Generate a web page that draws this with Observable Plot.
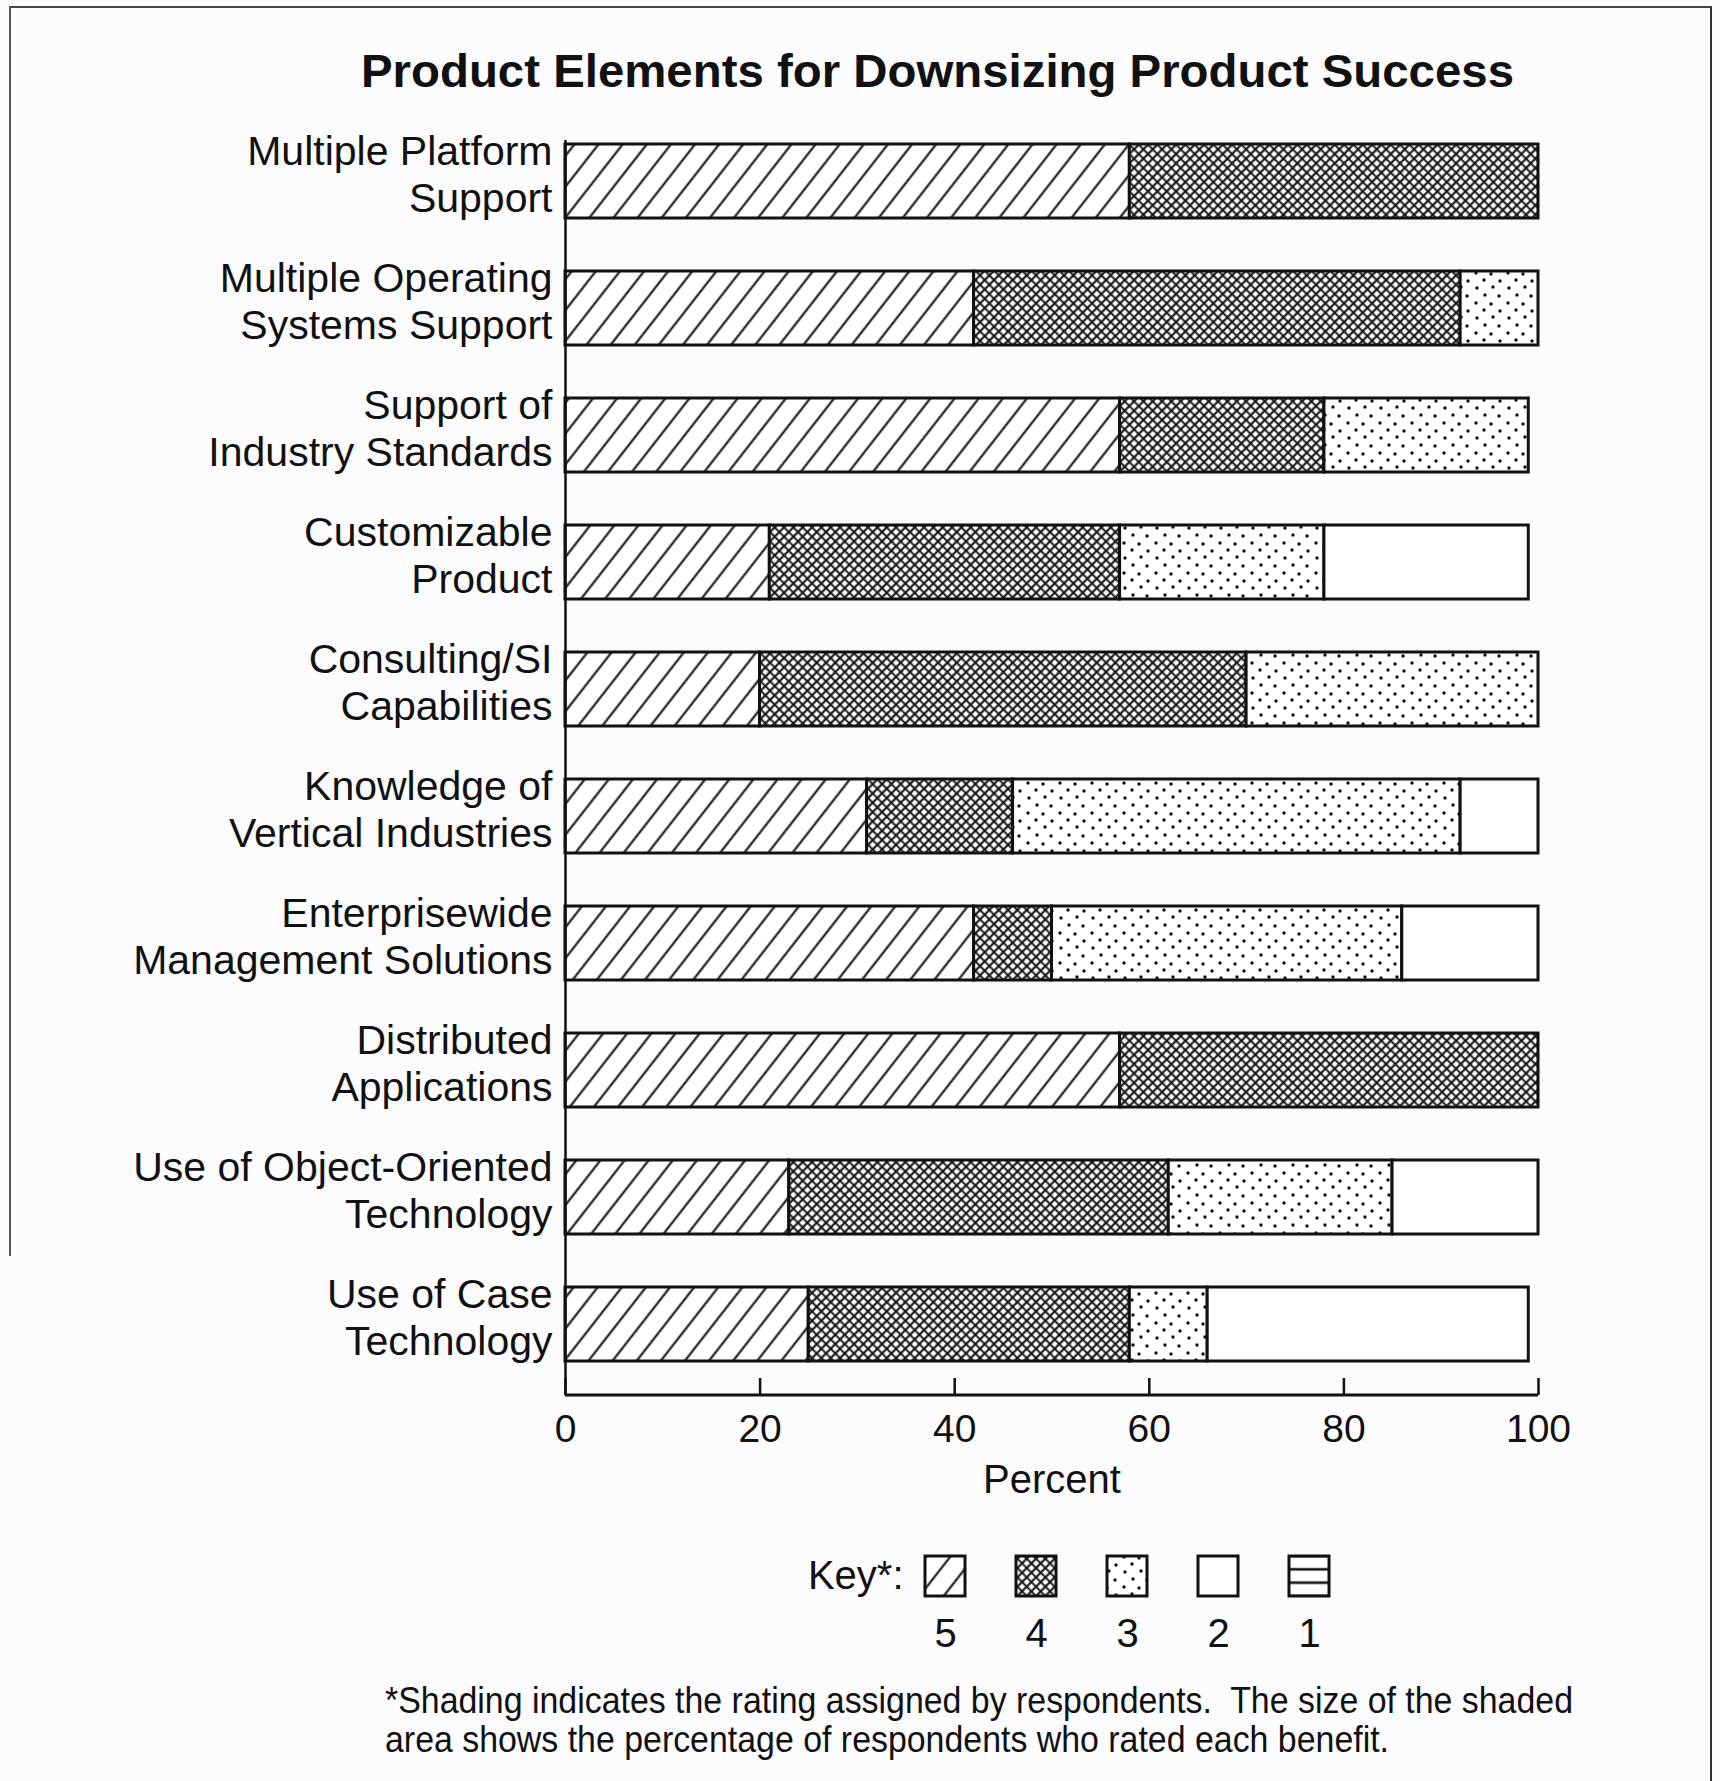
<!DOCTYPE html>
<html>
<head>
<meta charset="utf-8">
<script src="https://cdn.jsdelivr.net/npm/d3@7"></script>
<script src="https://cdn.jsdelivr.net/npm/@observablehq/plot@0.6"></script>
<style>
  html, body { margin: 0; padding: 0; background: #fcfbfd; }
  #page { position: relative; width: 1720px; height: 1781px; overflow: hidden; background: #fcfbfd;
          font-family: "Liberation Sans", Arial, Helvetica, sans-serif; color: #111; }
  .abs { position: absolute; white-space: nowrap; line-height: 1; }
  #title { font-weight: bold; font-size: 47px; left: 361px; top: 47px; }
  .foot { font-size: 36px; left: 385px; }
  #borderTR { position: absolute; left: 9px; top: 6px; width: 1703px; height: 1790px;
              border-top: 2px solid #444; border-right: 2px solid #333; box-sizing: border-box; }
  #borderL { position: absolute; left: 9px; top: 6px; width: 2px; height: 1250px; background: #555; }
</style>
</head>
<body>
<svg width="0" height="0" style="position:absolute">
  <defs>
    <pattern id="pat5" patternUnits="userSpaceOnUse" width="19" height="19" patternTransform="rotate(38)">
      <rect width="19" height="19" fill="#fff"/>
      <line x1="9.5" y1="-1" x2="9.5" y2="20" stroke="#111" stroke-width="2.1"/>
    </pattern>
    <pattern id="pat4" patternUnits="userSpaceOnUse" width="6.6" height="6.6" patternTransform="rotate(45)">
      <rect width="6.6" height="6.6" fill="#fff"/>
      <path d="M0 3.3H6.6M3.3 0V6.6" stroke="#111" stroke-width="2.1"/>
    </pattern>
    <pattern id="pat3" patternUnits="userSpaceOnUse" width="32" height="30">
      <rect width="32" height="30" fill="#fff"/>
      <g fill="#111">
        <circle cx="4" cy="3" r="1.7"/><circle cx="19" cy="4" r="1.7"/>
        <circle cx="12" cy="10" r="1.7"/><circle cx="28" cy="11" r="1.7"/>
        <circle cx="5" cy="18" r="1.7"/><circle cx="21" cy="17" r="1.7"/>
        <circle cx="13" cy="25" r="1.7"/><circle cx="27" cy="26" r="1.7"/>
      </g>
    </pattern>
    <pattern id="pat2" patternUnits="userSpaceOnUse" width="10" height="10">
      <rect width="10" height="10" fill="#fff"/>
    </pattern>
    <pattern id="pat1" patternUnits="userSpaceOnUse" width="10" height="13.33">
      <rect width="10" height="13.33" fill="#fff"/>
      <line x1="-1" y1="2" x2="11" y2="2" stroke="#111" stroke-width="2.6"/>
    </pattern>
  </defs>
</svg>
<div id="page">
  <div id="borderTR"></div>
  <div id="borderL"></div>
  <div id="title" class="abs">Product Elements for Downsizing Product Success</div>
  <div id="foot1" class="abs foot" style="top:1683px">*Shading indicates the rating assigned by respondents.&nbsp; The size of the shaded</div>
  <div id="foot2" class="abs foot" style="top:1722px">area shows the percentage of respondents who rated each benefit.</div>
</div>
<script>
// ---- data ----
const categories = [
  "Multiple Platform\nSupport",
  "Multiple Operating\nSystems Support",
  "Support of\nIndustry Standards",
  "Customizable\nProduct",
  "Consulting/SI\nCapabilities",
  "Knowledge of\nVertical Industries",
  "Enterprisewide\nManagement Solutions",
  "Distributed\nApplications",
  "Use of Object-Oriented\nTechnology",
  "Use of Case\nTechnology"
];
const ratings = ["5", "4", "3", "2", "1"];
const rating5 = [58, 42, 57, 21, 20, 31, 42, 57, 23, 25];
const rating4 = [42, 50, 21, 36, 50, 15, 8, 43, 39, 33];
const rating3 = [0, 8, 21, 21, 30, 46, 36, 0, 23, 8];
const rating2 = [0, 0, 0, 21, 0, 8, 14, 0, 15, 33];
const rating1 = [0, 0, 0, 0, 0, 0, 0, 0, 0, 0];
const xTicks = [0, 20, 40, 60, 80, 100];
const axisLabel = "Percent";

const series = {"5": rating5, "4": rating4, "3": rating3, "2": rating2, "1": rating1};
const data = [];
categories.forEach((c, i) => {
  ratings.forEach(r => {
    const v = series[r][i];
    if (v > 0) data.push({category: c, rating: r, percent: v});
  });
});

const page = document.getElementById("page");
const font = '"Liberation Sans", Arial, Helvetica, sans-serif';
const patternRange = ratings.map(r => `url(#pat${r})`);

// ---- main chart ----
const W = 1720, H = 1520;
const x0 = 565, x100 = 1538;
const frameTop = 110, frameBottom = 1395;
const frameH = frameBottom - frameTop;

const chart = Plot.plot({
  width: W, height: H,
  marginLeft: x0, marginRight: W - x100,
  marginTop: frameTop, marginBottom: H - frameBottom,
  x: {domain: [0, 100], axis: null},
  y: {domain: categories, paddingInner: 0.42, paddingOuter: 0.235, axis: null},
  color: {domain: ratings, range: patternRange},
  style: {background: "transparent", fontFamily: font, color: "#111", overflow: "visible"},
  marks: [
    Plot.barX(data, Plot.stackX({y: "category", x: "percent", fill: "rating", stroke: "#111", strokeWidth: 3})),
    Plot.ruleX([0], {insetTop: 30, strokeWidth: 2.5, stroke: "#111"}),
    Plot.ruleX(xTicks, {insetTop: frameH - 17, strokeWidth: 2.5, stroke: "#111"}),
    Plot.barX([0], {x1: 0, x2: 100, fill: "#111", insetTop: frameH - 1.5, insetBottom: -1.5}),
    Plot.text(categories, {y: d => d, frameAnchor: "left", textAnchor: "end", dx: -13, dy: -8,
      fontSize: 41, lineHeight: 1.15, fill: "#111"}),
    Plot.text(xTicks, {x: d => d, frameAnchor: "bottom", dy: 46, fontSize: 39, fill: "#111"}),
    Plot.text([axisLabel], {x: [50], frameAnchor: "bottom", dy: 97, fontSize: 40, fill: "#111"})
  ]
});
chart.style.position = "absolute";
chart.style.left = "0px";
chart.style.top = "0px";
page.appendChild(chart);

// ---- key ----
const key = Plot.plot({
  width: W, height: 120,
  marginLeft: 923, marginRight: 390, marginTop: 2, marginBottom: 78,
  x: {domain: ratings, paddingInner: 0.564, paddingOuter: 0, axis: null},
  color: {domain: ratings, range: patternRange},
  style: {background: "transparent", fontFamily: font, color: "#111", overflow: "visible"},
  marks: [
    Plot.cell(ratings, {x: d => d, fill: d => d, stroke: "#111", strokeWidth: 3}),
    Plot.text(ratings, {x: d => d, frameAnchor: "bottom", dy: 50, fontSize: 40, fill: "#111"}),
    Plot.text(["Key*:"], {frameAnchor: "left", dx: -20, textAnchor: "end", fontSize: 40, fill: "#111"})
  ]
});
key.style.position = "absolute";
key.style.left = "0px";
key.style.top = "1554px";
page.appendChild(key);

// ---- fit text widths ----
function fit(el, target, origin) {
  el.style.display = "inline-block";
  const w = el.getBoundingClientRect().width;
  const s = target / w;
  el.style.transformOrigin = origin || "left center";
  el.style.transform = `scaleX(${s})`;
  return s;
}
fit(document.getElementById("title"), 1153);
const s = fit(document.getElementById("foot1"), 1188);
const f2 = document.getElementById("foot2");
f2.style.display = "inline-block";
f2.style.transformOrigin = "left center";
f2.style.transform = `scaleX(${s})`;
</script>
</body>
</html>
